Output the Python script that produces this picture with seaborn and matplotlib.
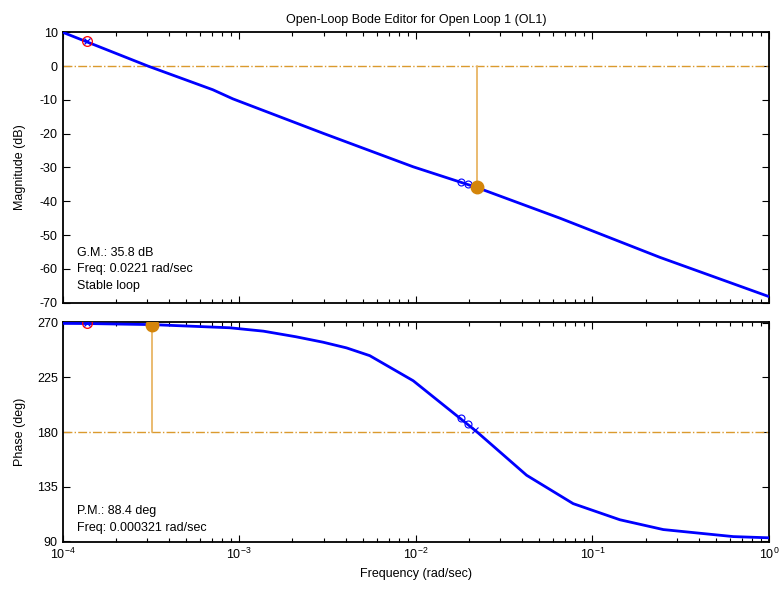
import numpy as np
import matplotlib
matplotlib.use("Agg")
import matplotlib.pyplot as plt
import seaborn as sns
from matplotlib.ticker import LogLocator, NullFormatter

# Magnitude curve
mag_freq = [1e-4, 3.04e-4, 7.08e-4, 9.2e-4, 2.99e-3, 9.66e-3, 0.0221, 0.0655, 0.2415, 1.0]
mag_db = [10.0, 0.0, -7.0, -9.7, -19.9, -29.8, -35.9, -45.0, -56.6, -68.2]

# Phase curve
phase_freq = [1e-4, 1.37e-4, 3.21e-4, 8.83e-4, 1.37e-3, 2.09e-3, 2.98e-3, 4.05e-3,
              5.48e-3, 9.66e-3, 0.0221, 0.0424, 0.0778, 0.143, 0.252, 0.628, 1.0]
phase_deg = [269.6, 269.5, 268.6, 266.0, 263.2, 258.6, 254.1, 249.4,
             243.0, 222.3, 180.3, 144.3, 120.9, 107.6, 99.5, 93.7, 92.7]

# open-loop pole marker (red circle)
ol_freq = 1.374e-4
ol_mag = 7.5
ol_phase = 269.6

# closed-loop markers (blue circles)
cl_freq = [0.0180, 0.0197]
cl_mag = [-34.4, -35.0]
cl_phase = [191.6, 186.9]
cl_x_freq = 0.0216
cl_x_phase = 181.5

# margins
gm_freq, gm_mag = 0.0221, -35.9
pm_freq, pm_phase = 0.000321, 268.4

gm_text = ["G.M.: 35.8 dB", "Freq: 0.0221 rad/sec", "Stable loop"]
pm_text = ["P.M.: 88.4 deg", "Freq: 0.000321 rad/sec"]

sns.set_style("ticks")
plt.rcParams['font.family'] = ['Liberation Sans', 'DejaVu Sans']
plt.rcParams['font.size'] = 9
plt.rcParams['mathtext.default'] = 'regular'
plt.rcParams['axes.unicode_minus'] = False
plt.rcParams['text.color'] = 'black'
plt.rcParams['axes.labelcolor'] = 'black'

BLUE = '#0000FF'
ORANGE = '#D4850A'
STEM = '#E8B565'
DASH = '#DB9A2E'

fig = plt.figure(figsize=(7.83, 5.89), dpi=100)
ax_m = fig.add_axes([0.0801, 0.4861, 0.902, 0.4591])
ax_p = fig.add_axes([0.0801, 0.0793, 0.902, 0.3745])

for ax in (ax_m, ax_p):
    ax.set_xscale('log')
    ax.set_xlim(1e-4, 1)
    ax.xaxis.set_major_locator(LogLocator(base=10, numticks=10))
    ax.xaxis.set_minor_locator(LogLocator(base=10, subs=np.arange(2, 10), numticks=20))
    ax.xaxis.set_minor_formatter(NullFormatter())
    ax.tick_params(which='both', direction='in', top=True, right=True,
                   labelsize=9, colors='black', labelcolor='black')
    ax.tick_params(which='major', length=5, width=0.8)
    ax.tick_params(which='minor', length=3, width=0.8)
    for s in ax.spines.values():
        s.set_linewidth(1.3)
        s.set_color('black')

# ---- Magnitude ----
ax_m.axhline(0, color=DASH, lw=1.0, ls='-.', zorder=1)
ax_m.plot([gm_freq, gm_freq], [0, gm_mag], color=STEM, lw=1.3, zorder=2)
sns.lineplot(x=mag_freq, y=mag_db, ax=ax_m, color=BLUE, lw=2, sort=False, zorder=3)
ax_m.plot(ol_freq, ol_mag, 'o', mfc='none', mec='red', ms=7, mew=0.9, zorder=4)
ax_m.plot(ol_freq, ol_mag, 'x', color=BLUE, ms=4, mew=0.9, zorder=4)
ax_m.plot(cl_freq, cl_mag, 'o', mfc='none', mec=BLUE, ms=5, mew=0.8, ls='none', zorder=4)
ax_m.plot(gm_freq, gm_mag, 'o', color=ORANGE, ms=9, zorder=5)
ax_m.set_ylim(-70, 10)
ax_m.set_yticks(np.arange(-70, 11, 10))
ax_m.set_xticklabels([])
ax_m.set_ylabel("Magnitude (dB)", fontsize=9)
ax_m.yaxis.set_label_coords(-0.052, 0.5)
for i, t in enumerate(gm_text):
    ax_m.text(0.02, 0.184 - i * 0.061, t, transform=ax_m.transAxes,
              fontsize=9, va='center', ha='left')
ax_m.set_title("Open-Loop Bode Editor for Open Loop 1 (OL1)", fontsize=9, pad=7)

# ---- Phase ----
ax_p.axhline(180, color=DASH, lw=1.0, ls='-.', zorder=1)
ax_p.plot([pm_freq, pm_freq], [180, pm_phase], color=STEM, lw=1.3, zorder=2)
sns.lineplot(x=phase_freq, y=phase_deg, ax=ax_p, color=BLUE, lw=2, sort=False, zorder=3)
ax_p.plot(ol_freq, ol_phase, 'o', mfc='none', mec='red', ms=7, mew=0.9, zorder=4)
ax_p.plot(ol_freq, ol_phase, 'x', color=BLUE, ms=4, mew=0.9, zorder=4)
ax_p.plot(cl_freq, cl_phase, 'o', mfc='none', mec=BLUE, ms=5, mew=0.8, ls='none', zorder=4)
ax_p.plot(cl_x_freq, cl_x_phase, 'x', color=BLUE, ms=4, mew=0.8, zorder=4)
ax_p.plot(pm_freq, pm_phase, 'o', color=ORANGE, ms=9, zorder=5)
ax_p.set_ylim(89, 271)
ax_p.set_yticks([90, 135, 180, 225, 270])
ax_p.set_ylabel("Phase (deg)", fontsize=9)
ax_p.yaxis.set_label_coords(-0.052, 0.5)
ax_p.set_xlabel("Frequency (rad/sec)", fontsize=9, labelpad=4)
for i, t in enumerate(pm_text):
    ax_p.text(0.02, 0.14 - i * 0.073, t, transform=ax_p.transAxes,
              fontsize=9, va='center', ha='left')

fig.savefig("out.png", dpi=100)
